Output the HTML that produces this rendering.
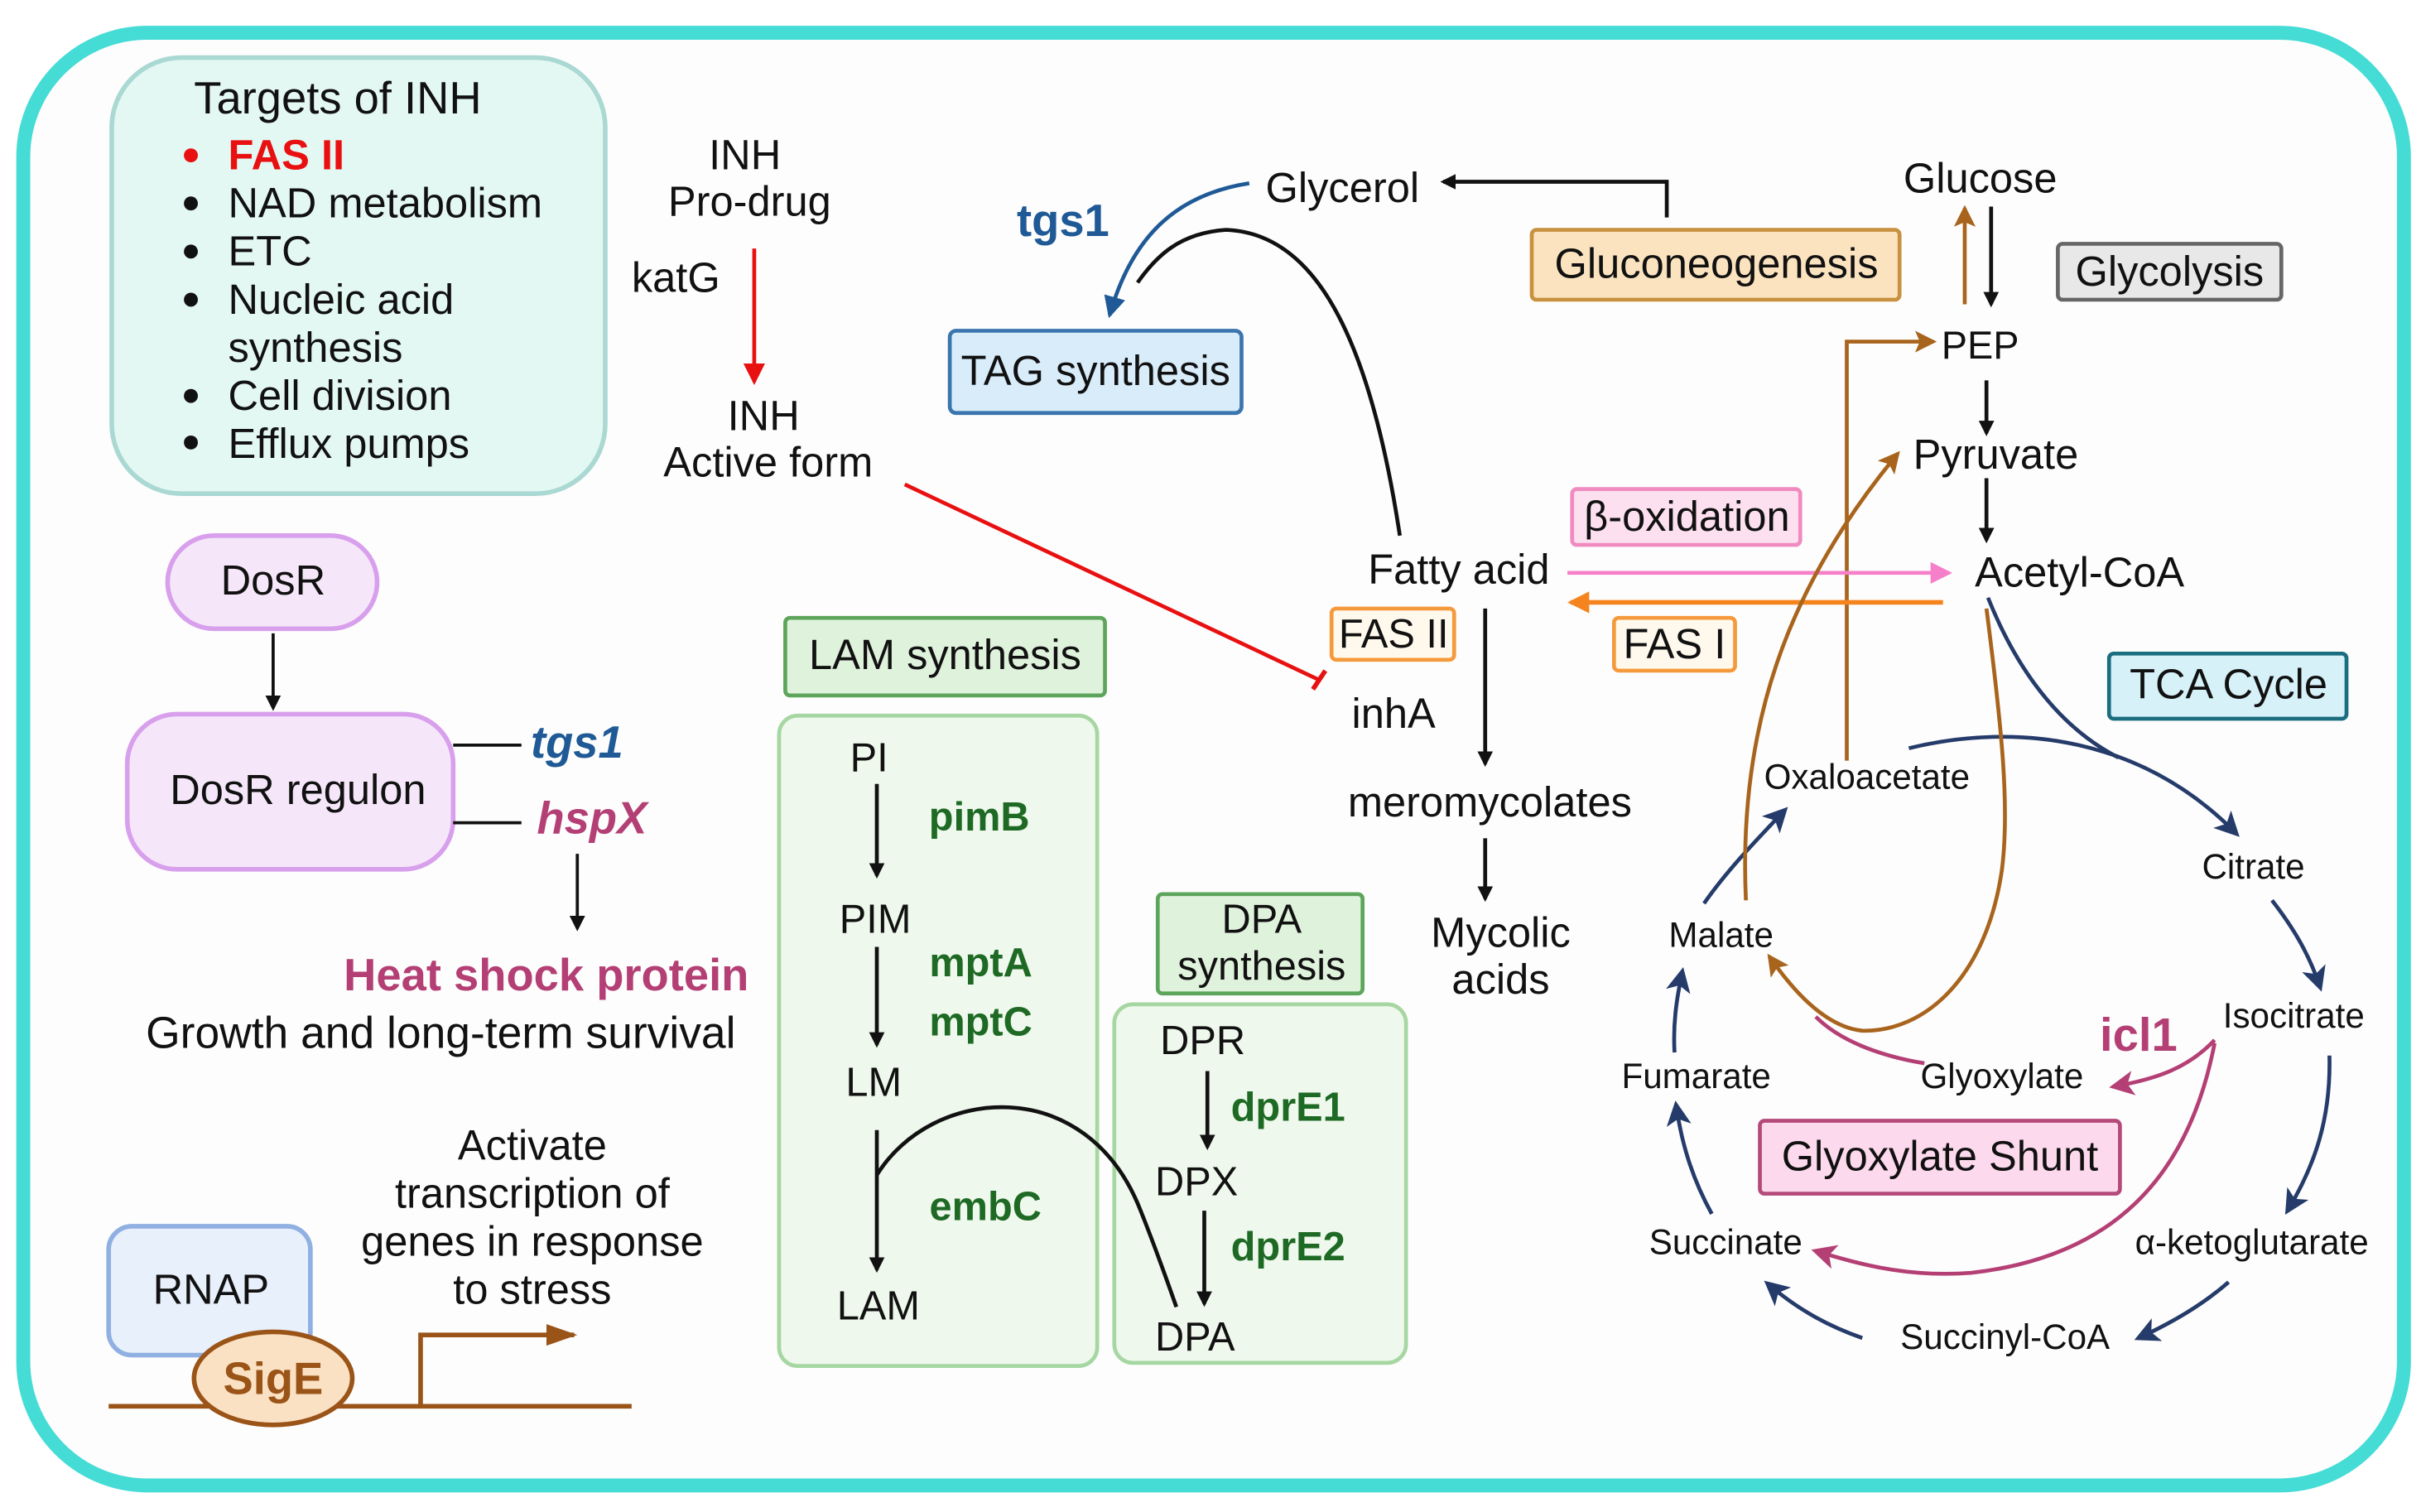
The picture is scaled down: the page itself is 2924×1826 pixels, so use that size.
<!DOCTYPE html>
<html><head><meta charset="utf-8"><style>
html,body{margin:0;padding:0;background:#fff;}
svg{display:block;}
text{font-family:"Liberation Sans",Arial,sans-serif;fill:#111;}
</style></head><body>
<svg width="2924" height="1826" viewBox="0 0 1560 974" xmlns="http://www.w3.org/2000/svg">
<defs>
<marker id="ak" markerWidth="10" markerHeight="10" refX="8" refY="5" orient="auto" markerUnits="userSpaceOnUse" viewBox="0 0 10 10"><path d="M0,0 L10,5 L0,10 z" fill="#111"/></marker>
<marker id="ar" markerWidth="14" markerHeight="14" refX="12" refY="7" orient="auto" markerUnits="userSpaceOnUse" viewBox="0 0 14 14"><path d="M0,0 L14,7 L0,14 z" fill="#e81010"/></marker>
<marker id="ab" markerWidth="14" markerHeight="14" refX="12" refY="7" orient="auto" markerUnits="userSpaceOnUse" viewBox="0 0 14 14"><path d="M0,0 L14,7 L0,14 z" fill="#1f5a96"/></marker>
<marker id="an" markerWidth="16" markerHeight="16" refX="13" refY="8" orient="auto" markerUnits="userSpaceOnUse" viewBox="0 0 16 16"><path d="M0,0 L16,8 L0,16 L4,8 z" fill="#253b6a"/></marker>
<marker id="abr" markerWidth="14" markerHeight="14" refX="12" refY="7" orient="auto" markerUnits="userSpaceOnUse" viewBox="0 0 14 14"><path d="M0,0 L14,7 L0,14 L3,7 z" fill="#a8641c"/></marker>
<marker id="am" markerWidth="16" markerHeight="16" refX="13" refY="8" orient="auto" markerUnits="userSpaceOnUse" viewBox="0 0 16 16"><path d="M0,0 L16,8 L0,16 L4,8 z" fill="#b43f74"/></marker>
<marker id="ap" markerWidth="14" markerHeight="14" refX="12" refY="7" orient="auto" markerUnits="userSpaceOnUse" viewBox="0 0 14 14"><path d="M0,0 L14,7 L0,14 z" fill="#f57fc8"/></marker>
<marker id="ao" markerWidth="14" markerHeight="14" refX="12" refY="7" orient="auto" markerUnits="userSpaceOnUse" viewBox="0 0 14 14"><path d="M0,0 L14,7 L0,14 z" fill="#f5841f"/></marker>
<marker id="abn" markerWidth="20" markerHeight="14" refX="18" refY="7" orient="auto" markerUnits="userSpaceOnUse" viewBox="0 0 20 14"><path d="M0,0 L20,7 L0,14 z" fill="#9a5418"/></marker>
</defs>
<rect x="0" y="0" width="1560" height="974" fill="#fff"/>
<rect x="15" y="21" width="1534" height="936" rx="80" fill="#fdfdfd" stroke="#45dcd6" stroke-width="9"/>

<!-- Targets -->
<rect x="72" y="37" width="318" height="281" rx="45" fill="#e4f8f3" stroke="#aad8d2" stroke-width="3"/>
<text x="125" y="73" font-size="29">Targets of INH</text>
<g font-size="27">
<circle cx="123" cy="100" r="4.5" fill="#e81010"/><text x="147" y="109" font-weight="bold" style="fill:#e81010">FAS II</text>
<circle cx="123" cy="131" r="4.5" fill="#111"/><text x="147" y="140">NAD metabolism</text>
<circle cx="123" cy="162" r="4.5" fill="#111"/><text x="147" y="171">ETC</text>
<circle cx="123" cy="193" r="4.5" fill="#111"/><text x="147" y="202">Nucleic acid</text>
<text x="147" y="233">synthesis</text>
<circle cx="123" cy="255" r="4.5" fill="#111"/><text x="147" y="264">Cell division</text>
<circle cx="123" cy="285" r="4.5" fill="#111"/><text x="147" y="295">Efflux pumps</text>
</g>

<!-- INH -->
<g font-size="27" text-anchor="middle">
<text x="480" y="109">INH</text><text x="483" y="139">Pro-drug</text>
<text x="492" y="277">INH</text><text x="495" y="307">Active form</text>
</g>
<text x="407" y="188" font-size="27">katG</text>
<line x1="486" y1="160" x2="486" y2="246" stroke="#e81010" stroke-width="2.5" marker-end="url(#ar)"/>
<line x1="583" y1="312" x2="850" y2="438" stroke="#e81010" stroke-width="2.5"/>
<line x1="846" y1="444" x2="854" y2="432" stroke="#e81010" stroke-width="3"/>

<!-- DosR -->
<rect x="108" y="345" width="135" height="60" rx="30" fill="#f5e7f9" stroke="#d8a0ec" stroke-width="3"/>
<text x="176" y="383" font-size="27" text-anchor="middle">DosR</text>
<line x1="176" y1="408" x2="176" y2="456" stroke="#111" stroke-width="2" marker-end="url(#ak)"/>
<rect x="82" y="460" width="210" height="100" rx="32" fill="#f5e7f9" stroke="#d8a0ec" stroke-width="3"/>
<text x="192" y="518" font-size="27" text-anchor="middle">DosR regulon</text>
<line x1="292" y1="480" x2="336" y2="480" stroke="#111" stroke-width="2"/>
<line x1="292" y1="530" x2="336" y2="530" stroke="#111" stroke-width="2"/>
<text x="342" y="488" font-size="29" font-weight="bold" font-style="italic" style="fill:#1f5a96">tgs1</text>
<text x="346" y="537" font-size="29" font-weight="bold" font-style="italic" style="fill:#b43f74">hspX</text>
<line x1="372" y1="550" x2="372" y2="598" stroke="#111" stroke-width="2" marker-end="url(#ak)"/>
<text x="352" y="638" font-size="29" font-weight="bold" text-anchor="middle" style="fill:#b43f74">Heat shock protein</text>
<text x="284" y="675" font-size="28.5" text-anchor="middle">Growth and long-term survival</text>

<!-- RNAP -->
<rect x="70" y="790" width="130" height="83" rx="15" fill="#e8f0fb" stroke="#8fb0e0" stroke-width="3"/>
<text x="136" y="840" font-size="27" text-anchor="middle">RNAP</text>
<line x1="70" y1="906" x2="407" y2="906" stroke="#9a5418" stroke-width="3"/>
<ellipse cx="176" cy="888" rx="51" ry="30" fill="#fbe1c3" stroke="#9a5418" stroke-width="3"/>
<text x="176" y="898" font-size="29" font-weight="bold" text-anchor="middle" style="fill:#9a5418">SigE</text>
<polyline points="271,906 271,860 370,860" fill="none" stroke="#9a5418" stroke-width="3" marker-end="url(#abn)"/>
<g font-size="27" text-anchor="middle">
<text x="343" y="747">Activate</text><text x="343" y="778">transcription of</text>
<text x="343" y="809">genes in response</text><text x="343" y="840">to stress</text>
</g>

<!-- TAG / glycerol -->
<rect x="612" y="213" width="188" height="53" rx="4" fill="#d8ecfa" stroke="#3b75b0" stroke-width="2.5"/>
<text x="706" y="248" font-size="27" text-anchor="middle">TAG synthesis</text>
<text x="685" y="152" font-size="29" font-weight="bold" text-anchor="middle" style="fill:#1f5a96">tgs1</text>
<text x="865" y="130" font-size="27" text-anchor="middle">Glycerol</text>
<path d="M805,118 C760,125 730,150 715,203" fill="none" stroke="#1f5a96" stroke-width="2.5" marker-end="url(#ab)"/>
<path d="M902,345 C880,200 840,150 790,148 C760,150 745,165 733,182" fill="none" stroke="#111" stroke-width="2.5"/>
<polyline points="1074,140 1074,117 930,117" fill="none" stroke="#111" stroke-width="2.5" marker-end="url(#ak)"/>

<rect x="987" y="148" width="237" height="45" rx="3" fill="#fbe3c0" stroke="#c8913f" stroke-width="2.5"/>
<text x="1106" y="179" font-size="27" text-anchor="middle">Gluconeogenesis</text>
<rect x="1326" y="157" width="144" height="36" rx="3" fill="#e8e8e8" stroke="#666" stroke-width="2.5"/>
<text x="1398" y="184" font-size="27" text-anchor="middle">Glycolysis</text>
<text x="1276" y="124" font-size="27" text-anchor="middle">Glucose</text>
<line x1="1266" y1="196" x2="1266" y2="134" stroke="#a8641c" stroke-width="2.5" marker-end="url(#abr)"/>
<line x1="1283" y1="133" x2="1283" y2="196" stroke="#111" stroke-width="2.5" marker-end="url(#ak)"/>
<text x="1276" y="231" font-size="25" text-anchor="middle">PEP</text>
<polyline points="1190,490 1190,220 1246,220" fill="none" stroke="#a8641c" stroke-width="2.5" marker-end="url(#abr)"/>
<line x1="1280" y1="245" x2="1280" y2="279" stroke="#111" stroke-width="2.5" marker-end="url(#ak)"/>
<text x="1286" y="302" font-size="27" text-anchor="middle">Pyruvate</text>
<line x1="1280" y1="308" x2="1280" y2="348" stroke="#111" stroke-width="2.5" marker-end="url(#ak)"/>
<text x="1340" y="378" font-size="27" text-anchor="middle">Acetyl-CoA</text>

<rect x="1013" y="315" width="147" height="36" rx="3" fill="#fde0ef" stroke="#f08bc0" stroke-width="2.5"/>
<text x="1087" y="342" font-size="27" text-anchor="middle">β-oxidation</text>
<line x1="1010" y1="369" x2="1256" y2="369" stroke="#f57fc8" stroke-width="2.5" marker-end="url(#ap)"/>
<line x1="1252" y1="388" x2="1012" y2="388" stroke="#f5841f" stroke-width="3" marker-end="url(#ao)"/>
<rect x="1040" y="398" width="78" height="34" rx="3" fill="#fff8ec" stroke="#f59a3c" stroke-width="2.5"/>
<text x="1079" y="424" font-size="27" text-anchor="middle">FAS I</text>
<rect x="858" y="392" width="79" height="33" rx="3" fill="#fff8ec" stroke="#f59a3c" stroke-width="2.5"/>
<text x="898" y="417" font-size="26" text-anchor="middle">FAS II</text>
<text x="940" y="376" font-size="27" text-anchor="middle">Fatty acid</text>
<text x="898" y="469" font-size="27" text-anchor="middle">inhA</text>
<line x1="957" y1="392" x2="957" y2="492" stroke="#111" stroke-width="2.5" marker-end="url(#ak)"/>
<text x="960" y="526" font-size="27" text-anchor="middle">meromycolates</text>
<line x1="957" y1="540" x2="957" y2="579" stroke="#111" stroke-width="2.5" marker-end="url(#ak)"/>
<text x="967" y="610" font-size="27" text-anchor="middle">Mycolic</text>
<text x="967" y="640" font-size="27" text-anchor="middle">acids</text>

<!-- LAM -->
<rect x="506" y="398" width="206" height="50" rx="3" fill="#dff2dc" stroke="#5ca55a" stroke-width="2.5"/>
<text x="609" y="431" font-size="27" text-anchor="middle">LAM synthesis</text>
<rect x="502" y="461" width="205" height="419" rx="12" fill="#eef8ec" stroke="#a6d7a2" stroke-width="2.5"/>
<!-- DPA panel -->
<rect x="718" y="647" width="188" height="231" rx="12" fill="#eef8ec" stroke="#a6d7a2" stroke-width="2.5"/>
<g font-size="26" text-anchor="middle">
<text x="560" y="497">PI</text><text x="564" y="601">PIM</text><text x="563" y="706">LM</text><text x="566" y="850">LAM</text>
</g>
<g font-size="26" font-weight="bold" text-anchor="middle">
<text x="631" y="535" style="fill:#1e6a24">pimB</text><text x="632" y="629" style="fill:#1e6a24">mptA</text><text x="632" y="667" style="fill:#1e6a24">mptC</text><text x="635" y="786" style="fill:#1e6a24">embC</text>
</g>
<line x1="565" y1="505" x2="565" y2="564" stroke="#111" stroke-width="2.5" marker-end="url(#ak)"/>
<line x1="565" y1="610" x2="565" y2="673" stroke="#111" stroke-width="2.5" marker-end="url(#ak)"/>
<line x1="565" y1="728" x2="565" y2="818" stroke="#111" stroke-width="2.5" marker-end="url(#ak)"/>
<path d="M565,757 C600,700 700,690 735,780 C745,805 752,825 758,842" fill="none" stroke="#111" stroke-width="2.5"/>

<rect x="746" y="576" width="132" height="64" rx="3" fill="#dff2dc" stroke="#5ca55a" stroke-width="2.5"/>
<text x="813" y="601" font-size="26" text-anchor="middle">DPA</text>
<text x="813" y="631" font-size="26" text-anchor="middle">synthesis</text>
<g font-size="26" text-anchor="middle">
<text x="775" y="679">DPR</text><text x="771" y="770">DPX</text><text x="770" y="870">DPA</text>
</g>
<text x="830" y="722" font-size="26" font-weight="bold" text-anchor="middle" style="fill:#1e6a24">dprE1</text>
<text x="830" y="812" font-size="26" font-weight="bold" text-anchor="middle" style="fill:#1e6a24">dprE2</text>
<line x1="778" y1="690" x2="778" y2="739" stroke="#111" stroke-width="2.5" marker-end="url(#ak)"/>
<line x1="776" y1="780" x2="776" y2="840" stroke="#111" stroke-width="2.5" marker-end="url(#ak)"/>

<!-- TCA -->
<rect x="1359" y="421" width="153" height="42" rx="3" fill="#d6f1f7" stroke="#1b6d80" stroke-width="2.5"/>
<text x="1436" y="450" font-size="27" text-anchor="middle">TCA Cycle</text>
<g font-size="22.5" text-anchor="middle">
<text x="1203" y="508">Oxaloacetate</text><text x="1452" y="566">Citrate</text><text x="1478" y="662">Isocitrate</text>
<text x="1451" y="808">α-ketoglutarate</text><text x="1292" y="869">Succinyl-CoA</text><text x="1112" y="808">Succinate</text>
<text x="1093" y="701">Fumarate</text><text x="1109" y="610">Malate</text><text x="1290" y="701">Glyoxylate</text>
</g>
<text x="1378" y="677" font-size="30" font-weight="bold" text-anchor="middle" style="fill:#b43f74">icl1</text>
<rect x="1134" y="722" width="232" height="47" rx="3" fill="#fdd9ed" stroke="#b44a7a" stroke-width="2.5"/>
<text x="1250" y="754" font-size="27" text-anchor="middle">Glyoxylate Shunt</text>

<g fill="none" stroke="#253b6a" stroke-width="2.5">
<path d="M1281,385 C1295,420 1320,465 1365,488"/>
<path d="M1230,482 C1300,465 1380,475 1441,537" marker-end="url(#an)"/>
<path d="M1464,580 C1478,598 1488,615 1495,636" marker-end="url(#an)"/>
<path d="M1501,680 C1502,720 1492,750 1474,780" marker-end="url(#an)"/>
<path d="M1436,826 C1420,840 1400,852 1378,862" marker-end="url(#an)"/>
<path d="M1200,862 C1180,855 1160,845 1139,827" marker-end="url(#an)"/>
<path d="M1103,782 C1092,762 1084,740 1080,712" marker-end="url(#an)"/>
<path d="M1079,678 C1078,660 1080,645 1084,626" marker-end="url(#an)"/>
<path d="M1098,582 C1112,562 1128,545 1150,522" marker-end="url(#an)"/>
</g>
<g fill="none" stroke="#a8641c" stroke-width="2.5">
<path d="M1125,580 C1120,470 1150,380 1223,292" marker-end="url(#abr)"/>
<path d="M1280,392 C1290,470 1295,520 1290,560 C1280,630 1240,665 1200,664 C1180,662 1160,645 1140,616" marker-end="url(#abr)"/>
</g>
<g fill="none" stroke="#b43f74" stroke-width="2.5">
<path d="M1240,685 C1210,680 1185,670 1170,655"/>
<path d="M1427,670 C1410,688 1390,695 1362,700" marker-end="url(#am)"/>
<path d="M1427,672 C1410,760 1360,810 1270,820 C1230,823 1200,815 1170,806" marker-end="url(#am)"/>
</g>
</svg>
</body></html>
